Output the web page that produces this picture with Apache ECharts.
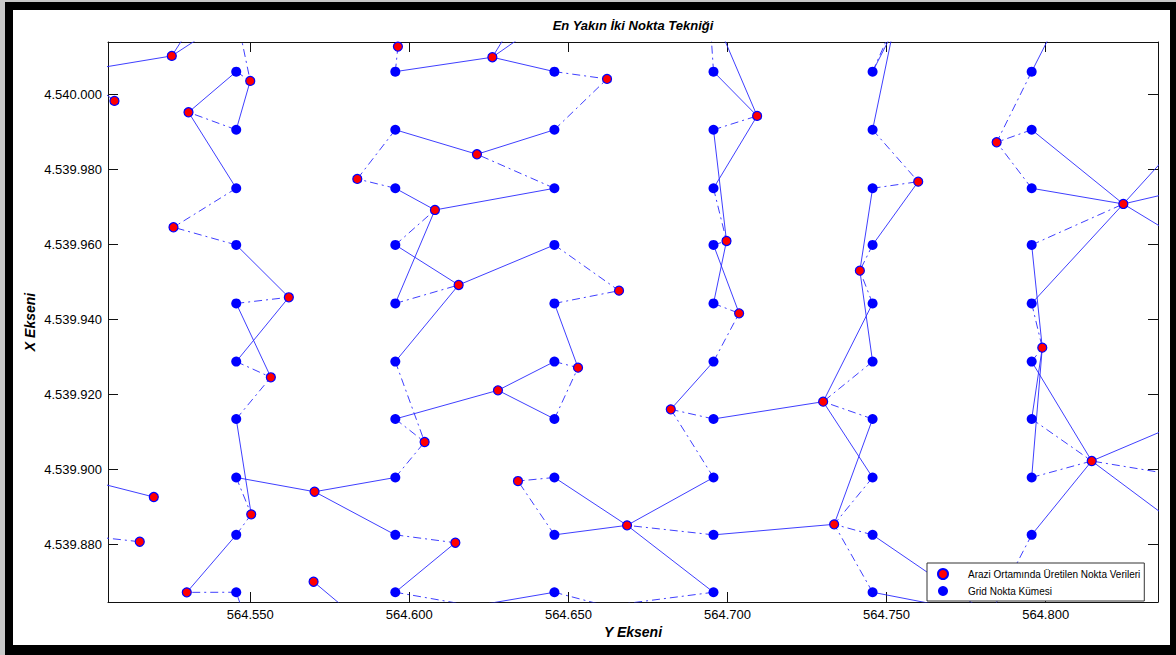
<!DOCTYPE html>
<html>
<head>
<meta charset="utf-8">
<script src="https://cdn.jsdelivr.net/npm/echarts@6/dist/echarts.min.js"></script>
<style>
  html, body { margin: 0; padding: 0; width: 1176px; height: 655px; overflow: hidden; background: #c8c8c8; }
  #frame { position: absolute; left: 5px; top: 2px; width: 1171px; height: 653px; box-sizing: border-box;
           border-style: solid; border-color: #000; border-width: 8px 6px 10px 8px; background: #fff; }
  #chart { position: absolute; left: 0; top: 0; width: 1176px; height: 655px; }
</style>
</head>
<body>
<div id="frame"></div>
<div id="chart"></div>
<script>
// Grid node coordinates (Y = easting, X = northing, metres); outer rows/columns lie beyond the view
const gridX = [564495.6, 564545.6, 564595.6, 564645.6, 564695.6, 564745.6, 564795.6, 564845.6];
const gridY = [4540036.9, 4540021.4, 4540006.0, 4539990.5, 4539974.9, 4539959.8, 4539944.2,
               4539928.7, 4539913.4, 4539897.8, 4539882.5, 4539867.2, 4539851.7];

// Field-measured points
const fieldX = [564525.35, 564507.33, 564550.00, 564530.60, 564525.88, 564562.14, 564596.42, 564626.10,
                564621.26, 564583.65, 564608.05, 564615.50, 564662.14, 564665.91, 564699.69, 564703.65,
                564709.31, 564759.94, 564741.60, 564784.59, 564824.40, 564556.48, 564550.31, 564570.22,
                564519.69, 564515.28, 564530.06, 564569.91, 564627.86, 564604.81, 564614.47, 564634.15,
                564653.02, 564682.17, 564668.43, 564730.06, 564733.52, 564798.93, 564814.47,
                564549.15, 564620.22, 564662.04, 564782.48, 564694.12, 564751.98, 564754.18, 564803.87];
const fieldY = [4540010.19, 4539998.19, 4540003.52, 4539995.17, 4539964.51, 4539945.84, 4540012.67, 4540009.84,
                4539983.97, 4539977.39, 4539969.12, 4539949.12, 4540004.05, 4539947.60, 4539960.85, 4539941.57,
                4539994.19, 4539976.67, 4539952.93, 4539987.17, 4539970.72, 4539924.51, 4539887.97, 4539894.00,
                4539892.59, 4539880.67, 4539867.17, 4539870.00, 4539921.04, 4539907.25, 4539880.40, 4539896.85,
                4539927.07, 4539915.97, 4539885.04, 4539918.00, 4539885.31, 4539932.40, 4539902.19,
                4539858.45, 4539863.52, 4539863.52, 4539861.12, 4540025.12, 4540016.59, 4540022.45, 4540019.79];

// Links: [grid column, grid row, field point]
const solidLinks = [
  [0,2,0],[0,9,24],
  [1,0,0],[1,1,0],[1,2,3],[1,3,2],[1,4,3],[1,5,5],[1,6,21],[1,7,5],[1,8,22],[1,9,23],[1,10,26],[1,11,39],
  [2,2,7],[2,3,8],[2,4,10],[2,5,11],[2,6,10],[2,7,11],[2,8,28],[2,9,23],[2,10,23],[2,11,30],[2,12,27],
  [3,0,7],[3,1,7],[3,2,7],[3,3,8],[3,4,10],[3,5,11],[3,6,32],[3,7,28],[3,8,28],[3,9,34],[3,10,34],[3,11,40],
  [4,1,16],[4,2,16],[4,3,14],[4,4,16],[4,5,15],[4,6,14],[4,7,33],[4,8,35],[4,9,34],[4,10,36],[4,11,34],
  [5,2,44],[5,3,44],[5,4,18],[5,5,17],[5,6,35],[5,7,18],[5,8,36],[5,9,35],[5,10,42],[5,11,42],
  [6,2,46],[6,3,20],[6,4,20],[6,5,37],[6,6,20],[6,7,38],[6,8,37],[6,9,37],[6,10,38],
  [7,3,20],[7,4,20],[7,5,20],[7,8,38],[7,10,38]
];
const dashLinks = [
  [0,2,1],[0,10,25],
  [1,1,2],[1,2,2],[1,3,3],[1,4,4],[1,5,4],[1,6,5],[1,7,21],[1,8,21],[1,9,22],[1,10,22],[1,11,26],
  [2,2,6],[2,3,9],[2,4,9],[2,5,10],[2,6,11],[2,7,29],[2,8,29],[2,9,29],[2,10,30],[2,11,40],
  [3,2,12],[3,3,12],[3,4,8],[3,5,13],[3,6,13],[3,7,32],[3,8,32],[3,9,31],[3,10,31],[3,11,41],
  [4,2,43],[4,3,16],[4,4,14],[4,5,14],[4,6,15],[4,7,15],[4,8,33],[4,9,33],[4,10,34],[4,11,41],
  [5,2,45],[5,3,17],[5,4,17],[5,5,18],[5,6,18],[5,7,35],[5,8,35],[5,9,36],[5,10,36],[5,11,36],
  [6,2,19],[6,3,19],[6,4,19],[6,5,20],[6,6,37],[6,7,37],[6,8,38],[6,9,38],[6,10,42],
  [7,9,38]
];

// Axis ticks
const xTicks = [564550, 564600, 564650, 564700, 564750, 564800];
const yTicks = [4539880, 4539900, 4539920, 4539940, 4539960, 4539980, 4540000];

const FONT = '"Liberation Sans", Arial, sans-serif';
const fmt = v => String(Math.round(v)).replace(/\B(?=(\d{3})+(?!\d))/g, '.');

const gridPts = [];
gridX.forEach(x => gridY.forEach(y => gridPts.push([x, y])));
const fieldPts = fieldX.map((x, i) => [x, fieldY[i]]);
const toSeg = l => ({ coords: [[gridX[l[0]], gridY[l[1]]], fieldPts[l[2]]] });

const lineColor = '#2a2aff';
const axisCommon = (pos, showLabel, ticks, isX) => ({
  type: 'value',
  position: pos,
  min: isX ? 564505.3 : 4539864.6,
  max: isX ? 564835.3 : 4540013.9,
  axisLine: { show: true, onZero: false, lineStyle: { color: '#111', width: 1 } },
  axisTick: { show: true, inside: true, length: 10, customValues: ticks, lineStyle: { color: '#111', width: 1 } },
  axisLabel: { show: showLabel, customValues: ticks, formatter: fmt, color: '#000', fontSize: 13,
               fontFamily: FONT, margin: 6 },
  splitLine: { show: false }
});

const chart = echarts.init(document.getElementById('chart'), null, { renderer: 'svg' });
chart.setOption({
  animation: false,
  backgroundColor: 'transparent',
  grid: { left: 108, top: 42, right: 18, bottom: 53 },
  xAxis: [axisCommon('bottom', true, xTicks, true), axisCommon('top', false, xTicks, true)],
  yAxis: [axisCommon('left', true, yTicks, false), axisCommon('right', false, yTicks, false)],
  legend: {
    data: ['Arazi Ortamında Üretilen Nokta Verileri', 'Grid Nokta Kümesi'],
    orient: 'vertical', left: 927, top: 563,
    padding: [5, 4, 5, 10], itemGap: 6, itemWidth: 40, itemHeight: 10, icon: 'circle',
    backgroundColor: '#fff', borderColor: '#333', borderWidth: 1, borderRadius: 0,
    textStyle: { fontSize: 10, fontFamily: FONT, color: '#000' },
    selectedMode: false
  },
  graphic: [
    { type: 'text', x: 633, y: 25, style: { text: 'En Yakın İki Nokta Tekniği', fontSize: 13, fontWeight: 'bold',
      fontStyle: 'italic', fontFamily: FONT, fill: '#000', align: 'center', verticalAlign: 'middle' } },
    { type: 'text', x: 633, y: 632, style: { text: 'Y Ekseni', fontSize: 14, fontWeight: 'bold',
      fontStyle: 'italic', fontFamily: FONT, fill: '#000', align: 'center', verticalAlign: 'middle' } },
    { type: 'text', x: 30, y: 322, rotation: Math.PI / 2, style: { text: 'X Ekseni', fontSize: 14, fontWeight: 'bold',
      fontStyle: 'italic', fontFamily: FONT, fill: '#000', align: 'center', verticalAlign: 'middle' } }
  ],
  series: [
    {
      type: 'lines', coordinateSystem: 'cartesian2d', xAxisIndex: 0, yAxisIndex: 0, clip: true, silent: true, z: 2,
      lineStyle: { color: lineColor, width: 1, type: 'solid', opacity: 0.9 },
      data: solidLinks.map(toSeg)
    },
    {
      type: 'lines', coordinateSystem: 'cartesian2d', xAxisIndex: 0, yAxisIndex: 0, clip: true, silent: true, z: 2,
      lineStyle: { color: lineColor, width: 1, type: [8, 4, 2, 4], opacity: 0.9 },
      data: dashLinks.map(toSeg)
    },
    {
      name: 'Grid Nokta Kümesi', type: 'scatter', xAxisIndex: 0, yAxisIndex: 0, clip: true, z: 3,
      symbol: 'circle', symbolSize: 10, itemStyle: { color: '#0000ff', opacity: 1 },
      data: gridPts
    },
    {
      name: 'Arazi Ortamında Üretilen Nokta Verileri', type: 'scatter', xAxisIndex: 0, yAxisIndex: 0, clip: true, z: 4,
      symbol: 'circle', symbolSize: 9, itemStyle: { color: '#ff0000', borderColor: '#0000ff', borderWidth: 1.2, opacity: 1 },
      data: fieldPts
    }
  ]
});
</script>
</body>
</html>
